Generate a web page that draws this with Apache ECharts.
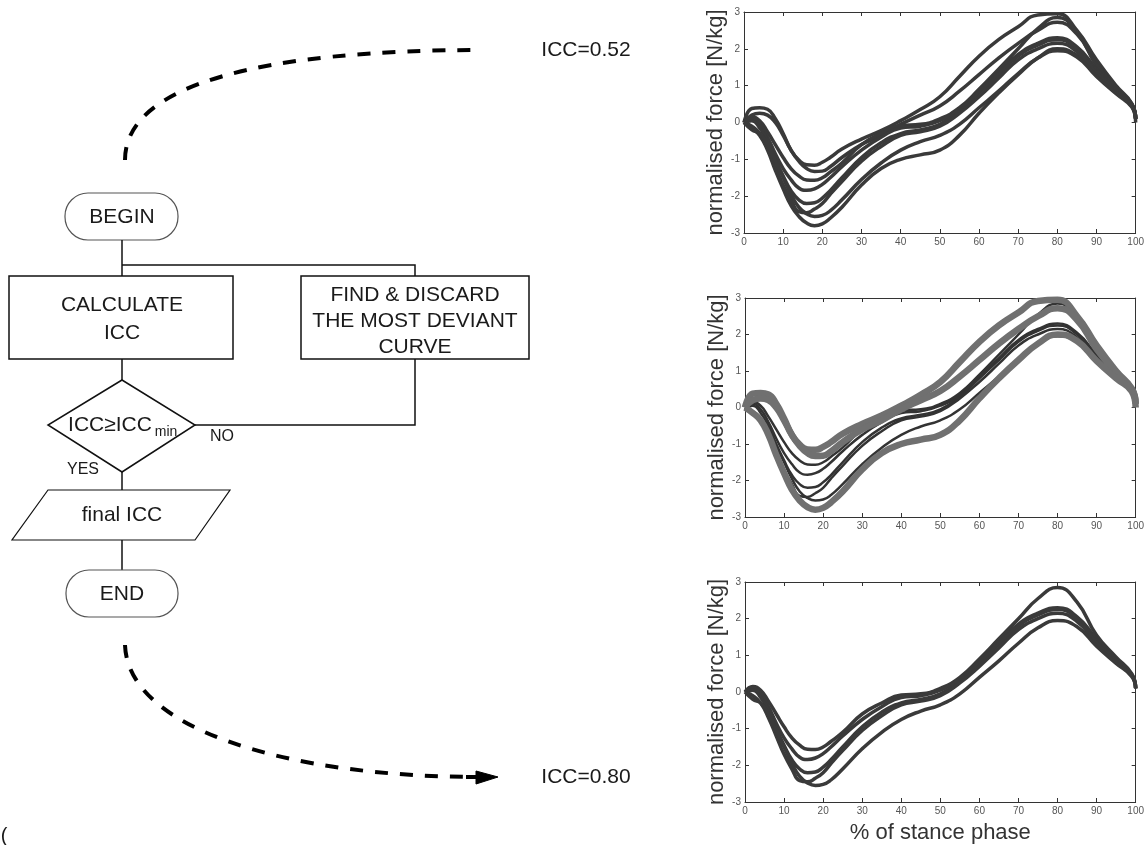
<!DOCTYPE html>
<html><head><meta charset="utf-8">
<script src="https://cdn.jsdelivr.net/npm/echarts@6/dist/echarts.min.js"></script>
<style>html,body{margin:0;padding:0;background:#fff}#c{width:1147px;height:845px}</style>
</head><body><div id="c"></div>
<script>
// % of stance phase sample points
const stancePct = [0,2,4,6,8,10,12,14,16,18,20,22,25,30,35,40,45,50,55,60,65,70,75,80,85,90,95,99,100];
// kept curves (shown in all three panels)
const keep1 = [0,0.15,0.05,-0.25,-0.6,-0.95,-1.25,-1.45,-1.56,-1.57,-1.5,-1.35,-1.1,-0.6,-0.3,-0.08,-0.05,0.1,0.4,0.9,1.45,2.0,2.55,2.85,2.45,1.55,0.95,0.5,0.1];
const keep2 = [0,0.1,-0.05,-0.4,-0.85,-1.25,-1.55,-1.78,-1.84,-1.8,-1.68,-1.5,-1.2,-0.75,-0.4,-0.15,-0.1,0.05,0.35,0.85,1.35,1.85,2.15,2.3,2.05,1.45,0.9,0.48,0.1];
const keep3 = [0,0.05,-0.15,-0.5,-1.0,-1.45,-1.85,-2.1,-2.2,-2.18,-2.05,-1.85,-1.5,-0.95,-0.55,-0.3,-0.2,-0.05,0.3,0.8,1.3,1.8,2.1,2.25,2.0,1.4,0.85,0.46,0.1];
const keep4 = [0,-0.1,-0.3,-0.7,-1.2,-1.7,-2.1,-2.42,-2.45,-2.35,-2.2,-1.95,-1.6,-1.05,-0.65,-0.35,-0.25,-0.1,0.25,0.7,1.2,1.7,2.0,2.15,1.92,1.35,0.82,0.45,0.1];
const keep5 = [0,-0.2,-0.3,-0.6,-1.05,-1.5,-1.95,-2.3,-2.48,-2.55,-2.52,-2.4,-2.1,-1.55,-1.1,-0.75,-0.52,-0.35,-0.05,0.4,0.85,1.33,1.75,1.95,1.78,1.25,0.78,0.42,0.1];
// discarded (most deviant) curves
const drop1 = [0,0.38,0.4,0.36,0.1,-0.3,-0.75,-1.02,-1.15,-1.16,-1.08,-0.95,-0.72,-0.45,-0.22,0.05,0.35,0.7,1.25,1.8,2.25,2.6,2.92,2.95,2.5,1.7,1.0,0.52,0.1];
const drop2 = [0,0.2,0.25,0.2,0.0,-0.35,-0.75,-1.05,-1.25,-1.33,-1.32,-1.2,-0.95,-0.6,-0.35,-0.05,0.2,0.45,0.85,1.3,1.75,2.15,2.5,2.72,2.4,1.6,0.95,0.5,0.1];
const drop3 = [0,-0.15,-0.35,-0.75,-1.3,-1.8,-2.25,-2.55,-2.73,-2.8,-2.75,-2.6,-2.3,-1.7,-1.25,-1.0,-0.88,-0.75,-0.35,0.25,0.8,1.3,1.75,2.0,1.82,1.28,0.8,0.44,0.0];

const xTickStep = 10, yTickStep = 1;
const yLabel = 'normalised force [N/kg]';
const xLabel = '% of stance phase';

const keptCurves = [keep1,keep2,keep3,keep4,keep5];
const droppedCurves = [drop1,drop2,drop3];
const toPairs = arr => stancePct.map((x,i)=>[x,arr[i]]);

const grids = [
  {left:744, top:12, width:392, height:221},
  {left:745, top:298, width:391, height:219},
  {left:745, top:582, width:391, height:220}
];
const xAxes = [], yAxes = [];
grids.forEach((g,i)=>{
  const common = {gridIndex:i, min:0, max:100, interval:xTickStep, type:'value',
    axisLine:{show:true,onZero:false,lineStyle:{color:'#333',width:1}},
    axisTick:{show:true,inside:true,length:4,lineStyle:{color:'#333'}},
    splitLine:{show:false}};
  xAxes.push(Object.assign({}, common, {position:'bottom',
    axisLabel:{color:'#555',fontSize:10,margin:4,fontFamily:'Liberation Sans'},
    name: i===2 ? xLabel : '', nameLocation:'middle', nameGap:20,
    nameTextStyle:{fontSize:22,color:'#333',fontFamily:'Liberation Sans'}}));
  xAxes.push(Object.assign({}, common, {position:'top', axisLabel:{show:false}}));
  const ycommon = {gridIndex:i, min:-3, max:3, interval:yTickStep, type:'value',
    axisLine:{show:true,onZero:false,lineStyle:{color:'#333',width:1}},
    axisTick:{show:true,inside:true,length:4,lineStyle:{color:'#333'}},
    splitLine:{show:false}};
  yAxes.push(Object.assign({}, ycommon, {position:'left',
    axisLabel:{color:'#555',fontSize:10,margin:4,fontFamily:'Liberation Sans'},
    name:yLabel, nameLocation:'middle', nameGap:14,
    nameTextStyle:{fontSize:22,color:'#333',fontFamily:'Liberation Sans'}}));
  yAxes.push(Object.assign({}, ycommon, {position:'right', axisLabel:{show:false}}));
});

const series = [];
function addLine(arr, gi, color, width, z){
  series.push({type:'line', xAxisIndex:gi*2, yAxisIndex:gi*2, data:toPairs(arr),
    smooth:0.5, showSymbol:false, symbol:'none', z:z,
    lineStyle:{color:color,width:width}});
}
// top panel: all curves
[...droppedCurves, ...keptCurves].forEach(c=>addLine(c,0,'#3a3a3a',3.5,2));
// middle panel: kept black, discarded grey markers
keptCurves.forEach(c=>addLine(c,1,'#333333',2.5,2));
droppedCurves.forEach(c=>addLine(c,1,'#707070',6.5,3));
// bottom panel: kept only
keptCurves.forEach(c=>addLine(c,2,'#3a3a3a',3.5,2));

const F = 'Liberation Sans';
function txt(x,y,text,size,extra){
  return Object.assign({type:'text', x:x, y:y, z:10,
    style:{text:text, font:size+'px "'+F+'"', fill:'#1a1a1a',
      align:'center', verticalAlign:'middle', textAlign:'center', textVerticalAlign:'middle'}}, extra||{});
}
const LS = {stroke:'#111', lineWidth:1.5, fill:null};
const graphic = [
  // BEGIN pill
  {type:'rect', shape:{x:65,y:193,width:113,height:47,r:23}, style:{fill:'#fff',stroke:'#555',lineWidth:1.2}},
  txt(122,217,'BEGIN',21),
  {type:'polyline', shape:{points:[[122,240],[122,276]]}, style:LS},
  {type:'polyline', shape:{points:[[122,265],[415,265],[415,276]]}, style:LS},
  // CALCULATE ICC
  {type:'rect', shape:{x:9,y:276,width:224,height:83}, style:{fill:'#fff',stroke:'#111',lineWidth:1.5}},
  txt(122,305,'CALCULATE',21), txt(122,333,'ICC',21),
  // FIND & DISCARD
  {type:'rect', shape:{x:301,y:276,width:228,height:83}, style:{fill:'#fff',stroke:'#111',lineWidth:1.5}},
  txt(415,295,'FIND & DISCARD',21), txt(415,321,'THE MOST DEVIANT',21), txt(415,347,'CURVE',21),
  {type:'polyline', shape:{points:[[122,359],[122,380]]}, style:LS},
  // diamond
  {type:'polygon', shape:{points:[[122,380],[195,425],[122,472],[48,425]]}, style:{fill:'#fff',stroke:'#111',lineWidth:1.5}},
  txt(110,425,'ICC≥ICC',21),
  txt(166,432,'min',14),
  {type:'polyline', shape:{points:[[195,425],[415,425],[415,359]]}, style:LS},
  txt(222,437,'NO',16),
  txt(83,470,'YES',16),
  {type:'polyline', shape:{points:[[122,472],[122,490]]}, style:LS},
  // final ICC parallelogram
  {type:'polygon', shape:{points:[[48,490],[230,490],[195,540],[12,540]]}, style:{fill:'#fff',stroke:'#111',lineWidth:1.2}},
  txt(122,515,'final ICC',21),
  {type:'polyline', shape:{points:[[122,540],[122,570]]}, style:LS},
  // END pill
  {type:'rect', shape:{x:66,y:570,width:112,height:47,r:23}, style:{fill:'#fff',stroke:'#555',lineWidth:1.2}},
  txt(122,594,'END',21),
  // dashed arcs
  {type:'bezierCurve', shape:{x1:125,y1:160,cpx1:125,cpy1:85,cpx2:260,cpy2:50,x2:482,y2:50},
    style:{stroke:'#000',lineWidth:4,lineDash:[13,12],fill:null}},
  {type:'bezierCurve', shape:{x1:125,y1:645,cpx1:128,cpy1:730,cpx2:290,cpy2:777,x2:480,y2:777},
    style:{stroke:'#000',lineWidth:4,lineDash:[13,12],fill:null}},
  {type:'polygon', shape:{points:[[476,771],[498,777],[476,784]]}, style:{fill:'#000',stroke:'#000',lineWidth:1}},
  {type:'polyline', shape:{points:[[466,777],[480,777]]}, style:{stroke:'#000',lineWidth:4}},
  txt(586,50,'ICC=0.52',21),
  txt(586,777,'ICC=0.80',21),
  txt(4,836,'(',20,{}),
];

const chart = echarts.init(document.getElementById('c'), null, {renderer:'canvas'});
chart.setOption({
  animation:false,
  backgroundColor:'#fff',
  grid:grids,
  xAxis:xAxes,
  yAxis:yAxes,
  series:series,
  graphic:graphic
});
</script></body></html>
